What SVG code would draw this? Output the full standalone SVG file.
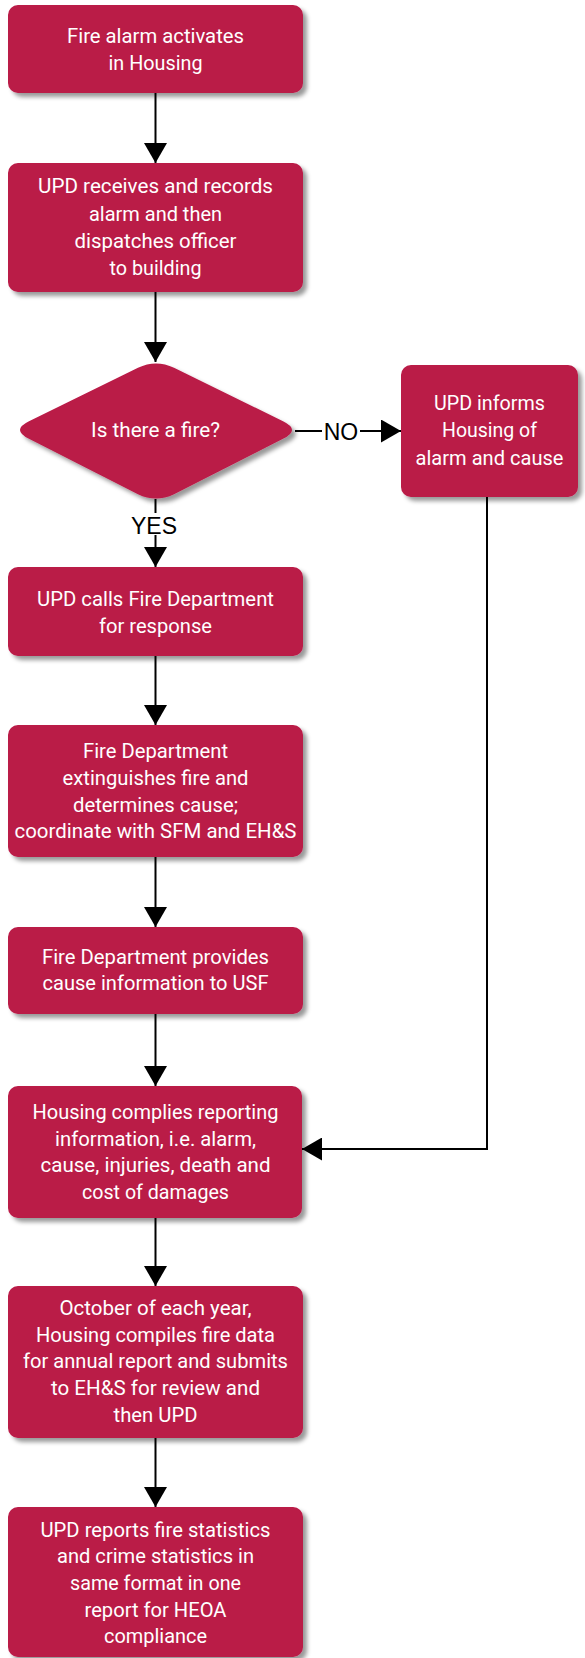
<svg xmlns="http://www.w3.org/2000/svg" width="585" height="1658" viewBox="0 0 585 1658">
<style>
.box{fill:#BA1A47;filter:url(#sh);}
.t{font-family:Roboto,"Liberation Sans",sans-serif;font-size:20px;fill:#fff;text-anchor:middle;}
.lbl{font-family:"Liberation Sans",Arial,sans-serif;font-size:23px;fill:#000;text-anchor:middle;}
.c{fill:none;stroke:#000;stroke-width:2;}
</style>
<defs>
<filter id="sh" x="-10%" y="-10%" width="130%" height="130%">
<feDropShadow dx="4" dy="4" stdDeviation="2.2" flood-color="#000" flood-opacity="0.4"/>
</filter>
<marker id="ah" markerUnits="userSpaceOnUse" markerWidth="20" markerHeight="23" refX="20" refY="11.5" orient="auto" viewBox="0 0 20 23">
<path d="M0,0 L20,11.5 L0,23 z" fill="#000"/>
</marker>
</defs>
<rect width="585" height="1658" fill="#fff"/>
<g id="connectors">
<path class="c" d="M155.5,93 V163" marker-end="url(#ah)"/>
<path class="c" d="M155.5,292 V362" marker-end="url(#ah)"/>
<path class="c" d="M295,431 H401" marker-end="url(#ah)"/>
<path class="c" d="M155.5,499 V567" marker-end="url(#ah)"/>
<path class="c" d="M155.5,656 V725" marker-end="url(#ah)"/>
<path class="c" d="M155.5,857 V927" marker-end="url(#ah)"/>
<path class="c" d="M155.5,1014 V1086" marker-end="url(#ah)"/>
<path class="c" d="M487,497 V1149 H302" marker-end="url(#ah)"/>
<path class="c" d="M155.5,1218 V1286" marker-end="url(#ah)"/>
<path class="c" d="M155.5,1438 V1507" marker-end="url(#ah)"/>
<rect x="322" y="419" width="38" height="24" fill="#fff"/>
<text class="lbl" x="341" y="440">NO</text>
<rect x="131" y="513" width="46" height="22" fill="#fff"/>
<text class="lbl" x="154" y="534">YES</text>
</g>
<g id="n1">
<rect class="box" x="8" y="5" width="295" height="88" rx="10"/>
<text class="t" x="155.5" y="43" textLength="177" lengthAdjust="spacingAndGlyphs">Fire alarm activates</text>
<text class="t" x="155.5" y="70" textLength="94" lengthAdjust="spacingAndGlyphs">in Housing</text>
</g>
<g id="n2">
<rect class="box" x="8" y="163" width="295" height="129" rx="10"/>
<text class="t" x="155.5" y="193" textLength="235" lengthAdjust="spacingAndGlyphs">UPD receives and records</text>
<text class="t" x="155.5" y="221" textLength="133" lengthAdjust="spacingAndGlyphs">alarm and then</text>
<text class="t" x="155.5" y="248" textLength="162" lengthAdjust="spacingAndGlyphs">dispatches officer</text>
<text class="t" x="155.5" y="275" textLength="92" lengthAdjust="spacingAndGlyphs">to building</text>
</g>
<g id="decision">
<path class="box" d="M29,421.2 L138,367.8 Q156,359 174,367.8 L283,421.2 Q301,430 283,438.8 L174,494.2 Q156,503 138,494.2 L29,438.8 Q11,430 29,421.2 Z"/>
<text class="t" x="155.5" y="437" textLength="129" lengthAdjust="spacingAndGlyphs">Is there a fire?</text>
</g>
<g id="n_no">
<rect class="box" x="401" y="365" width="177" height="132" rx="10"/>
<text class="t" x="489.5" y="410" textLength="111" lengthAdjust="spacingAndGlyphs">UPD informs</text>
<text class="t" x="489.5" y="437" textLength="95" lengthAdjust="spacingAndGlyphs">Housing of</text>
<text class="t" x="489.5" y="465" textLength="148" lengthAdjust="spacingAndGlyphs">alarm and cause</text>
</g>
<g id="n3">
<rect class="box" x="8" y="567" width="295" height="89" rx="10"/>
<text class="t" x="155.5" y="606" textLength="237" lengthAdjust="spacingAndGlyphs">UPD calls Fire Department</text>
<text class="t" x="155.5" y="633" textLength="113" lengthAdjust="spacingAndGlyphs">for response</text>
</g>
<g id="n4">
<rect class="box" x="8" y="725" width="295" height="132" rx="10"/>
<text class="t" x="155.5" y="758" textLength="145" lengthAdjust="spacingAndGlyphs">Fire Department</text>
<text class="t" x="155.5" y="785" textLength="186" lengthAdjust="spacingAndGlyphs">extinguishes fire and</text>
<text class="t" x="155.5" y="812" textLength="165" lengthAdjust="spacingAndGlyphs">determines cause;</text>
<text class="t" x="155.5" y="838" textLength="282" lengthAdjust="spacingAndGlyphs">coordinate with SFM and EH&amp;S</text>
</g>
<g id="n5">
<rect class="box" x="8" y="927" width="295" height="87" rx="10"/>
<text class="t" x="155.5" y="964" textLength="227" lengthAdjust="spacingAndGlyphs">Fire Department provides</text>
<text class="t" x="155.5" y="990" textLength="226" lengthAdjust="spacingAndGlyphs">cause information to USF</text>
</g>
<g id="n6">
<rect class="box" x="8" y="1086" width="294" height="132" rx="10"/>
<text class="t" x="155.5" y="1119" textLength="246" lengthAdjust="spacingAndGlyphs">Housing complies reporting</text>
<text class="t" x="155.5" y="1146" textLength="201" lengthAdjust="spacingAndGlyphs">information, i.e. alarm,</text>
<text class="t" x="155.5" y="1172" textLength="230" lengthAdjust="spacingAndGlyphs">cause, injuries, death and</text>
<text class="t" x="155.5" y="1199" textLength="147" lengthAdjust="spacingAndGlyphs">cost of damages</text>
</g>
<g id="n7">
<rect class="box" x="8" y="1286" width="295" height="152" rx="10"/>
<text class="t" x="155.5" y="1315" textLength="192" lengthAdjust="spacingAndGlyphs">October of each year,</text>
<text class="t" x="155.5" y="1342" textLength="239" lengthAdjust="spacingAndGlyphs">Housing compiles fire data</text>
<text class="t" x="155.5" y="1368" textLength="265" lengthAdjust="spacingAndGlyphs">for annual report and submits</text>
<text class="t" x="155.5" y="1395" textLength="209" lengthAdjust="spacingAndGlyphs">to EH&amp;S for review and</text>
<text class="t" x="155.5" y="1422" textLength="84" lengthAdjust="spacingAndGlyphs">then UPD</text>
</g>
<g id="n8">
<rect class="box" x="8" y="1507" width="295" height="150" rx="10"/>
<text class="t" x="155.5" y="1537" textLength="230" lengthAdjust="spacingAndGlyphs">UPD reports fire statistics</text>
<text class="t" x="155.5" y="1563" textLength="197" lengthAdjust="spacingAndGlyphs">and crime statistics in</text>
<text class="t" x="155.5" y="1590" textLength="171" lengthAdjust="spacingAndGlyphs">same format in one</text>
<text class="t" x="155.5" y="1617" textLength="142" lengthAdjust="spacingAndGlyphs">report for HEOA</text>
<text class="t" x="155.5" y="1643" textLength="103" lengthAdjust="spacingAndGlyphs">compliance</text>
</g>
</svg>
